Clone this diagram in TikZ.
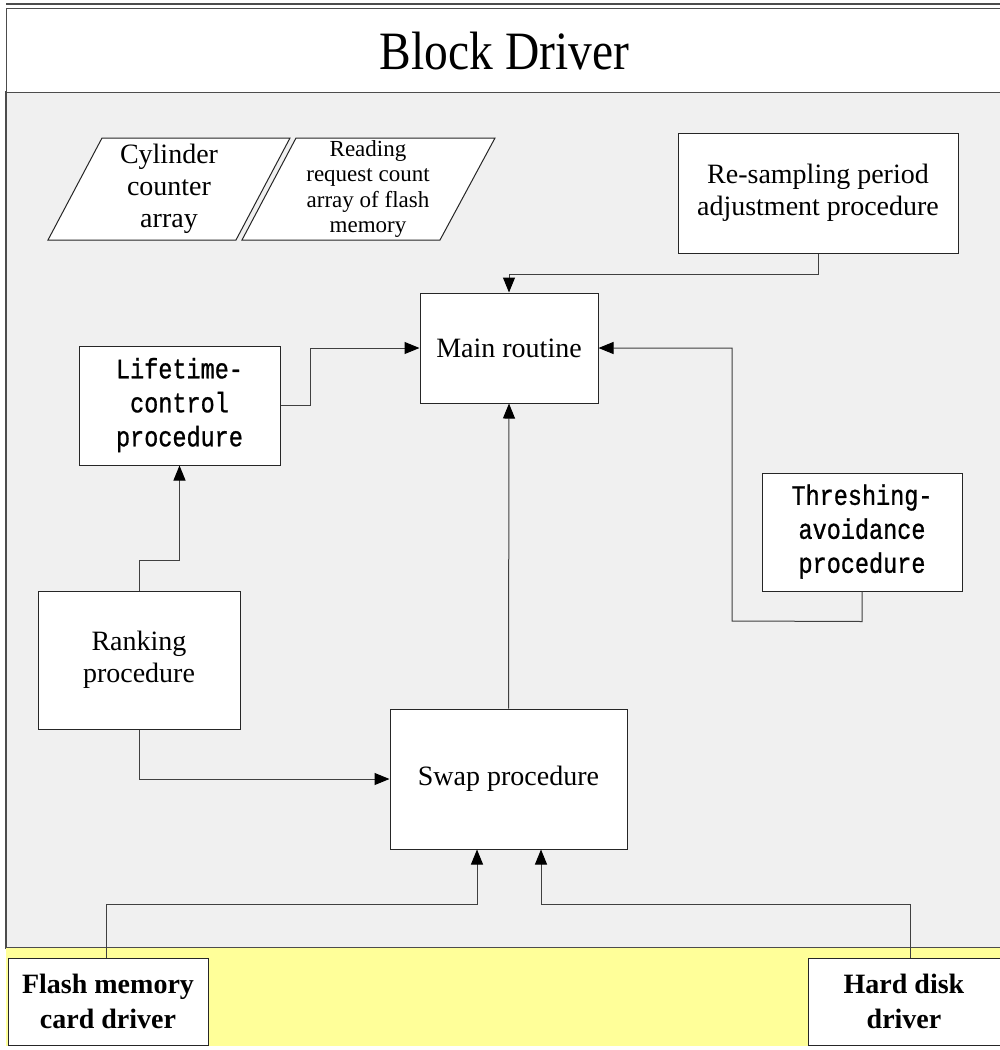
\documentclass[tikz,border=0pt]{standalone}
\usepackage{graphicx}
\usepackage{fontspec}
\setmainfont{Liberation Serif}
\newfontfamily\monof[FakeBold=1]{Liberation Mono}
\usetikzlibrary{arrows.meta,calc}
\definecolor{bggray}{HTML}{F0F0F0}
\definecolor{bgyellow}{HTML}{FFFF99}
\definecolor{linec}{HTML}{404040}
\newcommand\monotext[1]{\scalebox{1}[1.2]{\begin{tabular}{@{}c@{}}#1\end{tabular}}}
\begin{document}
\begin{tikzpicture}[x=1pt,y=-1pt,
  boxst/.style={draw=black!85,line width=1pt,fill=white,align=center,inner sep=0pt},
  txt/.style={font=\fontsize{28}{32}\selectfont},
  mono/.style={font=\monof\fontsize{23.5}{28.3}\selectfont},
  arr/.style={draw=linec,line width=1pt,-{Triangle[width=12pt,length=15pt,color=black,fill=black]}}]
\useasboundingbox (0,0) rectangle (1000,1050);
% frame
\draw[line width=1.5pt,draw=black!70] (6,4) -- (1000,4);
\draw[fill=bggray,draw=black!70,line width=1.2pt] (6,92) rectangle (1002,948);
\draw[fill=bgyellow,draw=none] (6,948) rectangle (1002,1046);
\node[draw=black!70,line width=1.2pt,fill=white,minimum width=996pt,minimum height=84pt,anchor=north west,inner sep=0pt,font=\fontsize{50}{56}\selectfont] (title) at (6,8) {\scalebox{0.95}[1.08]{Block Driver}};
% parallelograms
\draw[boxst] (102,138) -- (290,138) -- (236,240) -- (48,240) -- cycle;
\node[txt,align=center] (cyl) at (169,189) {Cylinder\\counter\\array};
\draw[boxst] (296,138) -- (495,138) -- (440,240) -- (242,240) -- cycle;
\node[font=\fontsize{23}{25.5}\selectfont,align=center] (rd) at (368,189) {Reading\\request count\\array of flash\\memory};
% boxes
\node[boxst,txt,minimum width=280pt,minimum height=120pt] (rs) at (818,193) {Re-sampling period\\adjustment procedure};
\node[boxst,txt,minimum width=178pt,minimum height=110pt] (main) at (509,348) {Main routine};
\node[boxst,mono,minimum width=201pt,minimum height=119pt] (lt) at (179.5,405.5) {\monotext{Lifetime-\\control\\procedure}};
\node[boxst,mono,minimum width=200pt,minimum height=118pt] (th) at (862,532) {\monotext{Threshing-\\avoidance\\procedure}};
\node[boxst,txt,minimum width=202pt,minimum height=138pt] (rk) at (139,660) {Ranking\\procedure};
\node[boxst,txt,minimum width=237pt,minimum height=140pt] (sw) at (508.5,779) {Swap procedure};
\node[boxst,txt,font=\bfseries\fontsize{28}{35}\selectfont,minimum width=200pt,minimum height=87pt] (fl) at (108,1001.5) {Flash memory\\card driver};
\node[boxst,txt,font=\bfseries\fontsize{28}{35}\selectfont,minimum width=192pt,minimum height=87pt] (hd) at (904,1001.5) {Hard disk\\driver};
% connectors
\draw[arr] (rs.south) -- ++(0,21) -| (main.north);
\draw[arr] (lt.east) -- ++(30,0) |- (main.west);
\coordinate (thk) at (732,621);
\draw[arr] (th.south) -- ++(0,30) -- (thk) |- (main.east);
\draw[arr] (rk.north) -- ++(0,-30) -| (lt.south);
\draw[arr] (rk.south) |- (sw.west);
\draw[arr] (sw.north) -- (main.south);
\draw[arr] ([xshift=-2pt]fl.north) -- ++(0,-53) -| ([xshift=-31.5pt]sw.south);
\draw[arr] ([xshift=6pt]hd.north) -- ++(0,-53) -| ([xshift=32.5pt]sw.south);
\end{tikzpicture}
\end{document}
